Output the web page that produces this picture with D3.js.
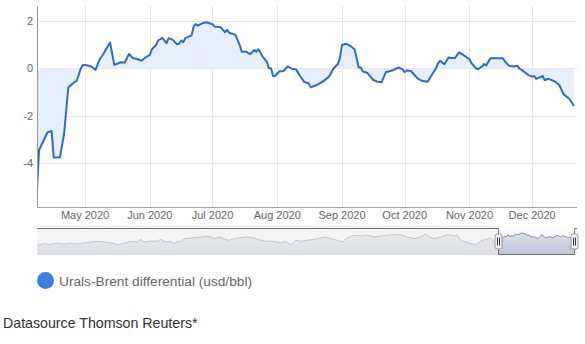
<!DOCTYPE html>
<html>
<head>
<meta charset="utf-8">
<script src="https://cdn.jsdelivr.net/npm/d3@7"></script>
<style>
  body { margin: 0; background: #fff; }
  svg { display: block; font-family: "Liberation Sans", Arial, sans-serif; }
</style>
</head>
<body>
<svg id="chart" width="585" height="344"></svg>
<script>
// Urals-Brent differential, usd/bbl (visible window)
const dates = [
  "2020-04-08","2020-04-09","2020-04-13","2020-04-15","2020-04-16","2020-04-19","2020-04-21","2020-04-23","2020-04-26","2020-04-27",
  "2020-04-29","2020-04-30","2020-05-02","2020-05-04","2020-05-06","2020-05-08","2020-05-10","2020-05-11","2020-05-13","2020-05-15",
  "2020-05-17","2020-05-18","2020-05-20","2020-05-22","2020-05-24","2020-05-26","2020-05-28","2020-05-30","2020-06-01","2020-06-02",
  "2020-06-04","2020-06-05","2020-06-07","2020-06-09","2020-06-10","2020-06-12","2020-06-14","2020-06-15","2020-06-16","2020-06-17",
  "2020-06-18","2020-06-21","2020-06-22","2020-06-23","2020-06-24","2020-06-26","2020-06-28","2020-07-01","2020-07-02","2020-07-05",
  "2020-07-06","2020-07-07","2020-07-08","2020-07-09","2020-07-12","2020-07-14","2020-07-15","2020-07-17","2020-07-19","2020-07-21",
  "2020-07-22","2020-07-23","2020-07-25","2020-07-27","2020-07-28","2020-07-29","2020-07-30","2020-07-31","2020-08-02","2020-08-04",
  "2020-08-06","2020-08-08","2020-08-10","2020-08-12","2020-08-14","2020-08-16","2020-08-17","2020-08-20","2020-08-22","2020-08-25",
  "2020-08-26","2020-08-28","2020-08-30","2020-08-31","2020-09-01","2020-09-03","2020-09-05","2020-09-07","2020-09-08","2020-09-09",
  "2020-09-10","2020-09-11","2020-09-13","2020-09-16","2020-09-18","2020-09-20","2020-09-22","2020-09-25","2020-09-28","2020-09-30",
  "2020-10-01","2020-10-02","2020-10-04","2020-10-07","2020-10-09","2020-10-12","2020-10-14","2020-10-16","2020-10-17","2020-10-18",
  "2020-10-20","2020-10-22","2020-10-25","2020-10-27","2020-10-29","2020-11-01","2020-11-02","2020-11-04","2020-11-05","2020-11-07",
  "2020-11-08","2020-11-09","2020-11-11","2020-11-13","2020-11-17","2020-11-18","2020-11-20","2020-11-22","2020-11-24","2020-11-25",
  "2020-11-26","2020-11-29","2020-12-01","2020-12-02","2020-12-03","2020-12-06","2020-12-07","2020-12-09","2020-12-12","2020-12-14",
  "2020-12-16","2020-12-18","2020-12-19","2020-12-21"
];
const values = [
  -5.14,-3.45,-2.71,-2.64,-3.77,-3.76,-2.74,-0.80,-0.57,-0.53,
  0.01,0.15,0.13,0.08,-0.06,0.39,0.64,0.81,1.09,0.15,
  0.22,0.26,0.25,0.61,0.43,0.40,0.32,0.47,0.57,0.81,
  0.99,1.18,1.29,1.07,1.28,1.21,1.02,1.04,1.18,1.11,
  1.28,1.40,1.77,1.88,1.81,1.91,1.95,1.87,1.77,1.74,
  1.63,1.53,1.63,1.51,1.42,0.99,0.71,0.71,0.60,0.78,
  0.71,0.81,0.50,0.29,0.01,0.01,-0.32,-0.32,-0.13,-0.11,
  0.09,-0.01,-0.04,-0.33,-0.58,-0.63,-0.80,-0.70,-0.60,-0.41,
  -0.32,0.01,0.19,0.43,0.99,1.04,0.95,0.81,0.43,0.04,
  0.04,-0.13,-0.18,-0.49,-0.56,-0.58,-0.16,-0.09,0.04,-0.04,
  -0.16,-0.09,-0.11,-0.41,-0.52,-0.56,-0.27,0.01,0.22,0.32,
  0.18,0.46,0.43,0.68,0.57,0.39,0.22,0.01,-0.04,0.08,
  0.19,0.12,0.43,0.43,0.43,0.29,0.11,0.08,0.11,-0.02,
  -0.06,-0.27,-0.35,-0.32,-0.44,-0.32,-0.49,-0.44,-0.56,-0.70,
  -1.09,-1.23,-1.30,-1.59
];

// earlier history, only shown in the navigator
const historyDates = [
  "2016-01-02","2016-01-25","2016-02-16","2016-03-10","2016-04-01","2016-04-24","2016-05-16","2016-06-08","2016-07-01","2016-07-23",
  "2016-08-15","2016-09-06","2016-09-29","2016-10-21","2016-11-13","2016-12-05","2016-12-17","2016-12-28","2017-01-20","2017-02-11",
  "2017-02-22","2017-03-11","2017-03-28","2017-04-08","2017-04-19","2017-05-01","2017-05-10","2017-06-04","2017-07-07","2017-07-30",
  "2017-08-10","2017-08-24","2017-09-07","2017-09-24","2017-10-11","2017-10-28","2017-11-14","2017-12-12","2018-01-04","2018-01-26",
  "2018-02-18","2018-03-12","2018-04-04","2018-04-21","2018-05-08","2018-05-25","2018-06-11","2018-07-03","2018-07-26","2018-08-17",
  "2018-09-03","2018-09-20","2018-10-13","2018-10-29","2018-11-15","2018-12-08","2018-12-30","2019-01-22","2019-02-14","2019-03-08",
  "2019-03-31","2019-04-22","2019-05-12","2019-06-06","2019-06-29","2019-07-22","2019-08-08","2019-08-19","2019-09-05","2019-09-27",
  "2019-10-20","2019-11-11","2019-11-22","2019-12-04","2019-12-21","2020-01-07","2020-01-23","2020-02-09","2020-02-26","2020-03-14",
  "2020-03-25","2020-04-06"
];
const historyValues = [
  -4.70,-3.83,-4.16,-3.45,-4.16,-3.45,-4.00,-3.45,-2.90,-2.52,
  -2.90,-3.28,-4.38,-3.60,-2.52,-2.90,-1.43,-2.90,-2.36,-2.52,
  -1.43,-2.90,-2.52,-3.83,-2.52,-2.90,-1.10,-0.72,-0.17,0.21,
  -0.17,-1.10,-0.17,-1.10,-1.97,-1.10,-0.55,-0.17,-0.72,-1.97,
  -2.52,-2.52,-3.28,-2.52,-4.38,-1.97,-2.52,-1.97,-1.43,-0.72,
  -0.17,-1.10,-1.97,-2.90,-0.72,0.76,0.37,0.76,-0.17,0.37,
  0.76,1.08,1.20,-0.17,-1.10,-0.17,1.63,-0.17,-1.10,-0.17,
  1.08,0.37,1.08,-1.97,-2.90,-3.83,-4.38,-2.52,-1.43,-0.72,
  -2.90,-5.09
];

const yTicks = [-4, -2, 0, 2];
const monthTicks = ["2020-05-01","2020-06-01","2020-07-01","2020-08-01","2020-09-01","2020-10-01","2020-11-01","2020-12-01"];
const seriesName = "Urals-Brent differential (usd/bbl)";
const sourceText = "Datasource Thomson Reuters*";

const parse = d3.timeParse("%Y-%m-%d");
const data = dates.map((d, i) => ({ date: parse(d), value: values[i] }));
const navData = historyDates.map((d, i) => ({ date: parse(d), value: historyValues[i] })).concat(data);

const svg = d3.select("#chart");
const plotLeft = 37, plotRight = 577, plotTop = 6, plotBottom = 207;

const x = d3.scaleTime()
  .domain([parse("2020-04-08"), parse("2020-12-22")])
  .range([plotLeft, 576]);
const y = d3.scaleLinear()
  .domain([-5.86, 2.64])
  .range([plotBottom, plotTop]);

// grid
svg.append("g")
  .selectAll("line")
  .data(yTicks)
  .enter()
  .append("line")
  .attr("x1", plotLeft).attr("x2", plotRight)
  .attr("y1", d => Math.round(y(d)) + 0.5).attr("y2", d => Math.round(y(d)) + 0.5)
  .attr("stroke", "#e6e6e6");

svg.append("g")
  .selectAll("line")
  .data(monthTicks.map(parse))
  .enter()
  .append("line")
  .attr("x1", d => Math.round(x(d)) + 0.5).attr("x2", d => Math.round(x(d)) + 0.5)
  .attr("y1", plotTop).attr("y2", plotBottom)
  .attr("stroke", "#e6e6e6");

const defs = svg.append("defs");
defs.append("clipPath").attr("id", "plot")
  .append("rect").attr("x", plotLeft).attr("y", plotTop).attr("width", plotRight - plotLeft).attr("height", plotBottom - plotTop);

const area = d3.area()
  .x(d => x(d.date))
  .y0(y(0))
  .y1(d => y(d.value));

const line = d3.line()
  .x(d => x(d.date))
  .y(d => y(d.value));

svg.append("path")
  .datum(data)
  .attr("clip-path", "url(#plot)")
  .attr("d", area)
  .attr("fill", "#e7effb");

svg.append("path")
  .datum(data)
  .attr("clip-path", "url(#plot)")
  .attr("d", line)
  .attr("fill", "none")
  .attr("stroke", "#2d6cc8")
  .attr("stroke-width", 2)
  .attr("stroke-linejoin", "round");

// axes
svg.append("line")
  .attr("x1", plotLeft + 0.5).attr("x2", plotLeft + 0.5)
  .attr("y1", plotTop).attr("y2", plotBottom)
  .attr("stroke", "#999");
svg.append("line")
  .attr("x1", plotLeft).attr("x2", plotRight)
  .attr("y1", plotBottom + 0.5).attr("y2", plotBottom + 0.5)
  .attr("stroke", "#a6a6a6");

svg.append("g")
  .selectAll("text")
  .data(yTicks)
  .enter()
  .append("text")
  .attr("x", 33)
  .attr("y", d => y(d) + 4)
  .attr("text-anchor", "end")
  .attr("font-size", 11)
  .attr("fill", "#666")
  .text(d => d);

svg.append("g")
  .selectAll("text")
  .data(monthTicks.map(parse))
  .enter()
  .append("text")
  .attr("x", d => x(d))
  .attr("y", 219)
  .attr("text-anchor", "middle")
  .attr("font-size", 11)
  .attr("fill", "#666")
  .text(d3.timeFormat("%b %Y"));

// navigator
const navTop = 228, navBottom = 255;
const nx = d3.scaleTime()
  .domain([parse("2016-01-01"), parse("2020-12-31")])
  .range([plotLeft, plotRight]);
const ny = d3.scaleLinear()
  .domain([-10, 4.2])
  .range([navBottom, navTop + 1]);

const grad = defs.append("linearGradient")
  .attr("id", "navFill").attr("x1", 0).attr("y1", 0).attr("x2", 0).attr("y2", 1);
grad.append("stop").attr("offset", "0%").attr("stop-color", "#dde1ea");
grad.append("stop").attr("offset", "100%").attr("stop-color", "#bcc3d4");

svg.append("rect")
  .attr("x", plotLeft).attr("y", navTop)
  .attr("width", plotRight - plotLeft).attr("height", navBottom - navTop)
  .attr("fill", "#fbfbfc");

svg.append("path")
  .datum(navData)
  .attr("d", d3.area().x(d => nx(d.date)).y0(navBottom).y1(d => ny(d.value)))
  .attr("fill", "url(#navFill)");

svg.append("path")
  .datum(navData)
  .attr("d", d3.line().x(d => nx(d.date)).y(d => ny(d.value)))
  .attr("fill", "none")
  .attr("stroke", "#7d8396")
  .attr("stroke-width", 1);

const selStart = nx(data[0].date), selEnd = nx(data[data.length - 1].date);

// mask outside the selected window
svg.append("rect")
  .attr("x", plotLeft).attr("y", navTop)
  .attr("width", selStart - plotLeft).attr("height", navBottom - navTop)
  .attr("fill", "rgba(240,240,240,0.6)");
svg.append("rect")
  .attr("x", selEnd).attr("y", navTop)
  .attr("width", plotRight - selEnd).attr("height", navBottom - navTop)
  .attr("fill", "rgba(240,240,240,0.6)");

svg.append("path")
  .attr("d", `M${plotLeft},${navTop + 0.5}H${Math.round(selStart) + 0.5}V${navBottom - 0.5}H${Math.round(selEnd) + 0.5}V${navTop + 0.5}H${plotRight}`)
  .attr("fill", "none")
  .attr("stroke", "#777")
  .attr("stroke-width", 1);

[selStart, selEnd].forEach(hx => {
  const h = svg.append("g").attr("transform", `translate(${Math.round(hx) + 0.5},${(navTop + navBottom) / 2})`);
  h.append("rect")
    .attr("x", -3.5).attr("y", -7.5).attr("width", 7).attr("height", 15).attr("rx", 2)
    .attr("fill", "#f2f2f2").attr("stroke", "#999");
  h.append("line").attr("x1", -1).attr("x2", -1).attr("y1", -4).attr("y2", 4).attr("stroke", "#333");
  h.append("line").attr("x1", 1).attr("x2", 1).attr("y1", -4).attr("y2", 4).attr("stroke", "#333");
});

// legend
svg.append("circle")
  .attr("cx", 45.5).attr("cy", 280.5).attr("r", 8.5)
  .attr("fill", "#3d7fe3");
svg.append("text")
  .attr("x", 59).attr("y", 285.5)
  .attr("font-size", 13.7)
  .attr("fill", "#666")
  .text(seriesName);

svg.append("text")
  .attr("x", 3).attr("y", 328)
  .attr("font-size", 14.2)
  .attr("fill", "#333")
  .text(sourceText);
</script>
</body>
</html>
